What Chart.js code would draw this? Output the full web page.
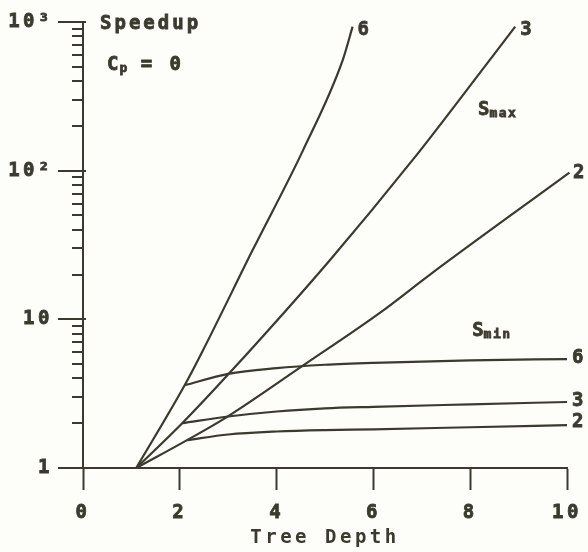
<!DOCTYPE html>
<html>
<head>
<meta charset="utf-8">
<script src="https://cdn.jsdelivr.net/npm/chart.js@4.4.1/dist/chart.umd.min.js"></script>
<style>
html, body { margin: 0; padding: 0; background: #fdfdf9; }
#wrap { width: 588px; height: 552px; }
</style>
</head>
<body>
<div id="wrap"><canvas id="c" width="588" height="552"></canvas></div>
<script>
var INK = '#3a3a30';
var BG = '#fdfdf9';
var FONT = '"DejaVu Sans Mono", "Liberation Mono", monospace';

// ─── DATA ────────────────────────────────────────────────────────────────
var xTickStep = 2;
var yMajor = [1, 10, 100, 1000];
var yMajorLabels = ['1', '10', '10²', '10³'];

// S_max curves (branching factor 6, 3, 2)
var smax6X = [1.1, 2.1, 2.48, 3.5, 4.55, 5.37, 5.57];
var smax6Y = [1, 3.6, 6.2, 29, 138, 559, 930];
var smax3X = [1.1, 2.05, 3.04, 5.1, 6.82, 8.41, 8.93];
var smax3Y = [1, 2.0, 4.4, 25, 119, 559, 930];
var smax2X = [1.1, 2.15, 2.97, 4.55, 6.14, 7.17, 10.05];
var smax2Y = [1, 1.54, 2.2, 4.9, 11.1, 20, 97];

// S_min curves
var sminX = [3, 4, 5, 6, 8, 10];
var smin6Y = [4.3, 4.7, 4.95, 5.1, 5.3, 5.4];
var smin3Y = [2.22, 2.4, 2.52, 2.58, 2.68, 2.78];
var smin2Y = [1.68, 1.76, 1.8, 1.82, 1.88, 1.94];
var smin6Start = [2.1, 3.6];
var smin3Start = [2.05, 2.0];
var smin2Start = [2.15, 1.54];

function pts(xs, ys) {
    return xs.map(function (x, i) { return { x: x, y: ys[i] }; });
}
function withStart(start, xs, ys) {
    return [{ x: start[0], y: start[1] }].concat(pts(xs, ys));
}

function line(label, data) {
    return {
        label: label, data: data,
        borderColor: INK, borderWidth: 2.2,
        pointRadius: 0, fill: false, clip: false,
        cubicInterpolationMode: 'monotone'
    };
}

// ─── DECORATION PLUGIN ──────────────────────────────────────────────────
function txt(ctx, s, x, y, size, align) {
    ctx.font = 'bold ' + size + 'px ' + FONT;
    ctx.textAlign = align || 'left';
    ctx.textBaseline = 'middle';
    ctx.lineWidth = 0.8;
    ctx.fillText(s, x, y);
    ctx.strokeText(s, x, y);
    return ctx.measureText(s).width;
}

var inkPlugin = {
    id: 'ink',
    beforeDraw: function (chart) {
        var ctx = chart.ctx;
        ctx.save();
        ctx.fillStyle = BG;
        ctx.fillRect(0, 0, chart.width, chart.height);
        ctx.restore();
        ctx.letterSpacing = '3.5px';
    },
    afterDraw: function (chart) {
        var ctx = chart.ctx, xs = chart.scales.x, ys = chart.scales.y;
        var left = chart.chartArea.left, top = chart.chartArea.top;
        ctx.save();
        ctx.strokeStyle = INK;
        ctx.fillStyle = INK;
        ctx.lineWidth = 2;

        // y axis ticks: long majors, short minors on the left
        [1, 10, 100].forEach(function (d) {
            for (var k = 2; k <= 9; k++) {
                var py = Math.round(ys.getPixelForValue(d * k));
                ctx.beginPath(); ctx.moveTo(left - 11, py); ctx.lineTo(left, py); ctx.stroke();
            }
        });
        yMajor.forEach(function (v) {
            var py = Math.round(ys.getPixelForValue(v));
            ctx.beginPath(); ctx.moveTo(left - 25, py); ctx.lineTo(left + 3, py); ctx.stroke();
        });

        ctx.letterSpacing = '3px';
        // title block
        txt(ctx, 'Speedup', left + 17, top + 2, 19);
        var cx = left + 24, cy = top + 43;
        var w = txt(ctx, 'C', cx, cy, 19);
        ctx.letterSpacing = '1px';
        var w2 = txt(ctx, 'p', cx + w - 2, cy + 4, 13);
        ctx.letterSpacing = '3px';
        txt(ctx, ' = 0', cx + w + w2 - 4, cy, 19);

        // curve end labels
        function endLabel(xv, yv, s, dx, dy) {
            txt(ctx, s, xs.getPixelForValue(xv) + dx, ys.getPixelForValue(yv) + dy, 19);
        }
        endLabel(smax6X[smax6X.length - 1], smax6Y[smax6Y.length - 1], '6', 5, 3);
        endLabel(smax3X[smax3X.length - 1], smax3Y[smax3Y.length - 1], '3', 5, 3);
        endLabel(10, smax2Y[smax2Y.length - 1], '2', 6, 0);
        endLabel(10, smin6Y[smin6Y.length - 1], '6', 5, -1);
        endLabel(10, smin3Y[smin3Y.length - 1], '3', 5, -1);
        endLabel(10, smin2Y[smin2Y.length - 1], '2', 5, -3);

        // S_max / S_min captions
        function sub(x, y, main, small) {
            var a = txt(ctx, main, x, y, 19);
            ctx.letterSpacing = '1.5px';
            txt(ctx, small, x + a - 3, y + 4, 13);
            ctx.letterSpacing = '3px';
        }
        sub(xs.getPixelForValue(8.16), ys.getPixelForValue(257), 'S', 'max');
        sub(xs.getPixelForValue(8.04), ys.getPixelForValue(8.4), 'S', 'min');
        ctx.restore();
    }
};

// ─── CHART ──────────────────────────────────────────────────────────────
var axisFont = { family: FONT, size: 19, weight: 'bold' };

new Chart(document.getElementById('c').getContext('2d'), {
    type: 'line',
    data: {
        datasets: [
            line('Smax 6', pts(smax6X, smax6Y)),
            line('Smax 3', pts(smax3X, smax3Y)),
            line('Smax 2', pts(smax2X, smax2Y)),
            line('Smin 6', withStart(smin6Start, sminX, smin6Y)),
            line('Smin 3', withStart(smin3Start, sminX, smin3Y)),
            line('Smin 2', withStart(smin2Start, sminX, smin2Y))
        ]
    },
    options: {
        responsive: false, animation: false,
        layout: { padding: { top: 22, right: 21, left: 0, bottom: 0 } },
        plugins: { legend: { display: false }, tooltip: { enabled: false } },
        scales: {
            x: {
                type: 'linear', min: 0, max: 10,
                afterFit: function (s) { s.height = 84; s.paddingLeft = 0; s.paddingRight = 0; },
                border: { display: true, color: INK, width: 2 },
                grid: { drawOnChartArea: false, drawTicks: true, tickLength: 22, tickWidth: 2, tickColor: INK, color: INK },
                ticks: {
                    stepSize: xTickStep, color: INK, font: axisFont, padding: 12, maxRotation: 0,
                    textStrokeColor: INK, textStrokeWidth: 0.8
                },
                title: { display: true, text: 'Tree Depth', color: INK, font: axisFont, padding: { top: 0, bottom: 3 } }
            },
            y: {
                type: 'logarithmic', min: 1, max: 1000,
                afterFit: function (s) { s.width = 83; s.paddingTop = 0; s.paddingBottom = 0; },
                border: { display: true, color: INK, width: 2 },
                grid: { display: false, drawTicks: false },
                ticks: {
                    autoSkip: false, color: INK, font: axisFont, padding: 30,
                    textStrokeColor: INK, textStrokeWidth: 0.8,
                    callback: function (v) {
                        var i = yMajor.indexOf(v);
                        return i < 0 ? '' : yMajorLabels[i];
                    }
                }
            }
        }
    },
    plugins: [inkPlugin]
});
</script>
</body>
</html>
